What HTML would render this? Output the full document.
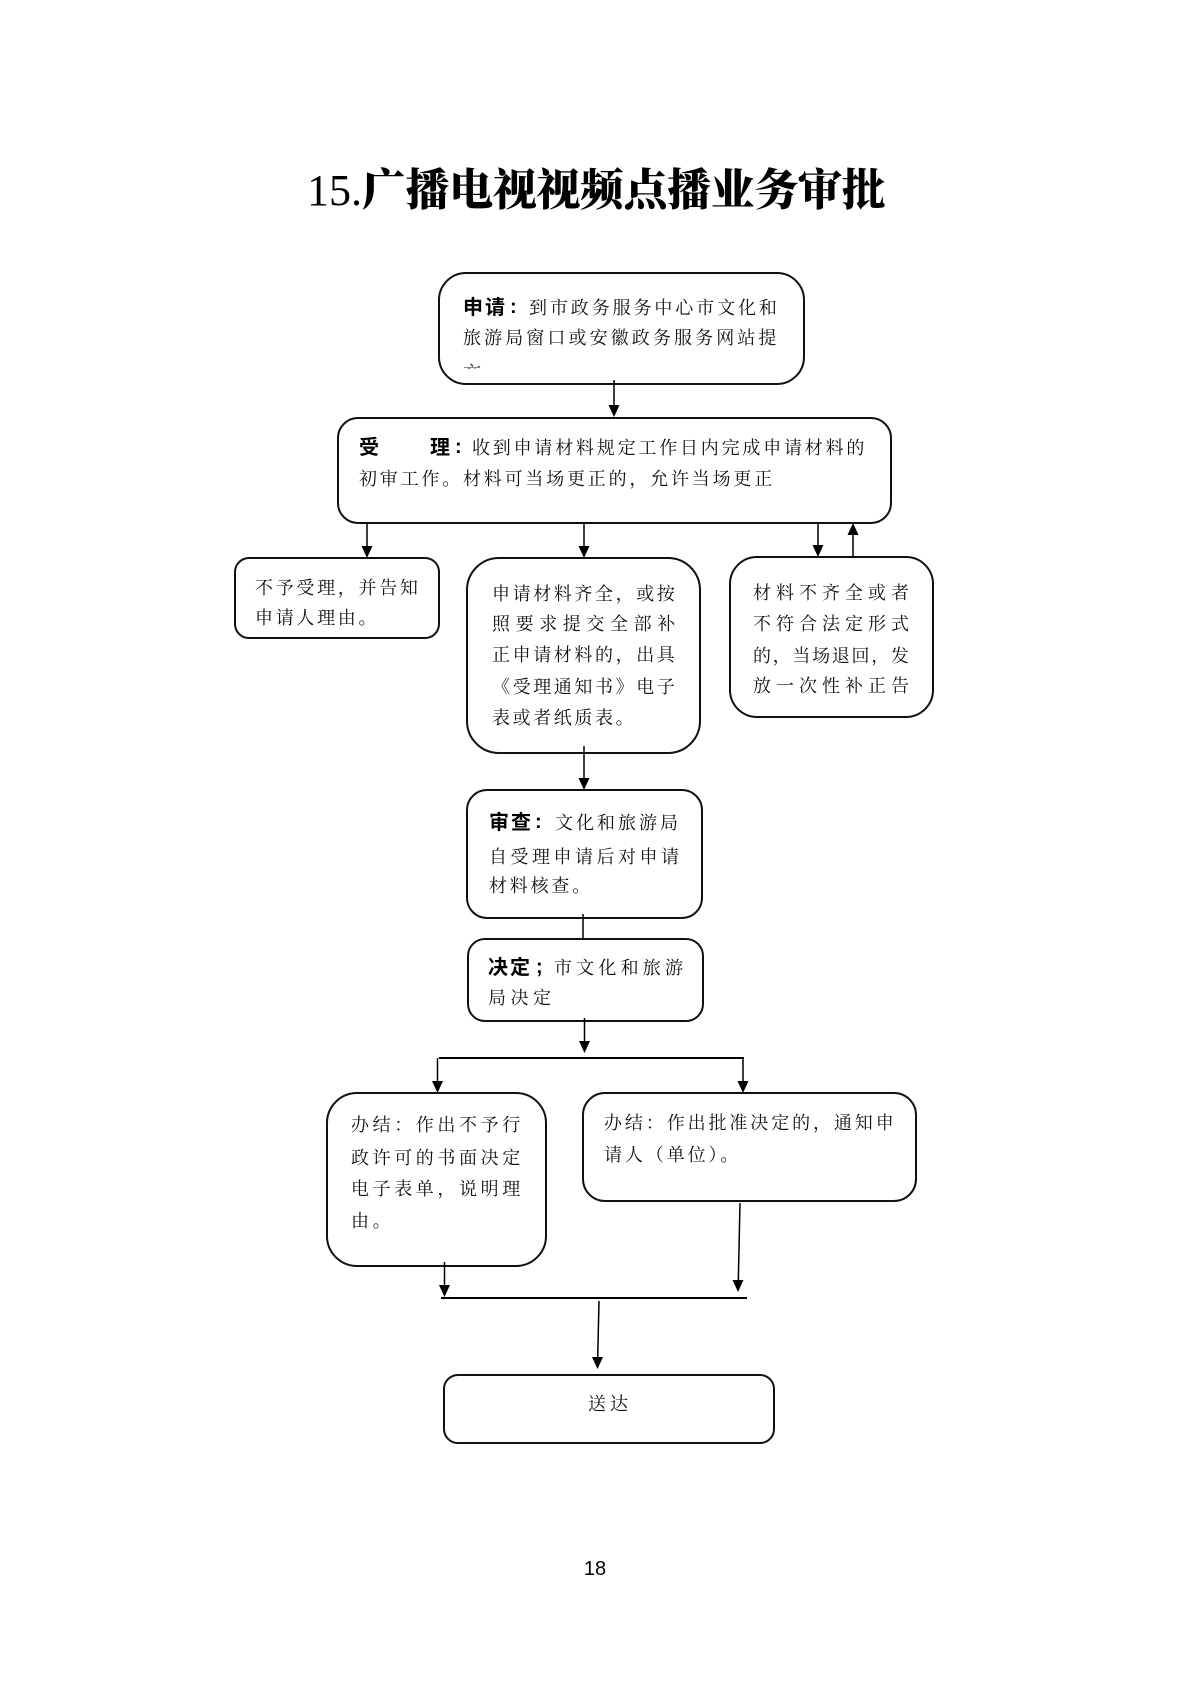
<!DOCTYPE html>
<html lang="zh-CN">
<head>
<meta charset="utf-8">
<style>
  html,body{margin:0;padding:0;background:#fff;}
  body{width:1190px;height:1683px;position:relative;overflow:hidden;}
  svg{position:absolute;left:0;top:0;}
  .t{position:absolute;white-space:nowrap;font-family:"Liberation Serif","Noto Serif CJK SC",serif;font-size:18px;line-height:18px;height:18px;color:#111;font-weight:400;}
  .b{position:absolute;white-space:nowrap;font-family:"Liberation Sans","Noto Sans CJK SC",sans-serif;font-size:20px;line-height:20px;height:20px;color:#000;font-weight:700;}
  .title{position:absolute;left:307px;top:169px;white-space:nowrap;font-size:44px;line-height:44px;color:#000;}
  .title .n{font-family:"Liberation Serif",serif;font-weight:400;}
  .title .c{font-family:"Liberation Serif","Noto Serif CJK SC",serif;font-weight:900;letter-spacing:-0.4px;}
  .clip{position:absolute;overflow:hidden;}
</style>
</head>
<body>

<div class="title"><span class="n">15.</span><span class="c">广播电视视频点播业务审批</span></div>

<svg width="1190" height="1683" viewBox="0 0 1190 1683">
  <g fill="none" stroke="#111" stroke-width="2">
    <rect x="439" y="273" width="365" height="111" rx="27"/>
    <rect x="338" y="418" width="553" height="105" rx="20"/>
    <rect x="235" y="558" width="204" height="80" rx="14"/>
    <rect x="467" y="558" width="233" height="195" rx="32"/>
    <rect x="730" y="557" width="203" height="160" rx="27"/>
    <rect x="467" y="790" width="235" height="128" rx="20"/>
    <rect x="468" y="939" width="235" height="82" rx="17"/>
    <rect x="327" y="1093" width="219" height="173" rx="30"/>
    <rect x="583" y="1093" width="333" height="108" rx="22"/>
    <rect x="444" y="1375" width="330" height="68" rx="14"/>
  </g>
  <g fill="none" stroke="#000" stroke-width="1.5">
    <line x1="614" y1="380" x2="614" y2="406"/>
    <line x1="367" y1="523" x2="367" y2="547"/>
    <line x1="584" y1="523" x2="584" y2="547"/>
    <line x1="818" y1="523" x2="818" y2="546"/>
    <line x1="853" y1="535" x2="853" y2="557"/>
    <line x1="584" y1="746" x2="584" y2="779"/>
    <line x1="583" y1="914" x2="583" y2="939"/>
    <line x1="584.5" y1="1018" x2="584.5" y2="1042"/>
    <line x1="437.5" y1="1058" x2="437.5" y2="1082"/>
    <line x1="743" y1="1058" x2="743" y2="1082"/>
    <line x1="444.5" y1="1262" x2="444.5" y2="1286"/>
    <line x1="740" y1="1203" x2="738.3" y2="1281"/>
    <line x1="599" y1="1301" x2="597.7" y2="1358"/>
  </g>
  <g stroke="#000" stroke-width="2">
    <line x1="439" y1="1058" x2="744" y2="1058"/>
    <line x1="441" y1="1298" x2="747" y2="1298"/>
  </g>
  <g fill="#000">
    <polygon points="608.5,405 619.5,405 614,417"/>
    <polygon points="361.5,546 372.5,546 367,558"/>
    <polygon points="578.5,546 589.5,546 584,558"/>
    <polygon points="812.5,545 823.5,545 818,557"/>
    <polygon points="847.5,535 858.5,535 853,523"/>
    <polygon points="578.5,778 589.5,778 584,790"/>
    <polygon points="579,1041 590,1041 584.5,1053"/>
    <polygon points="432,1081 443,1081 437.5,1093"/>
    <polygon points="737.5,1081 748.5,1081 743,1093"/>
    <polygon points="439,1285 450,1285 444.5,1297"/>
    <polygon points="732.5,1280 743.5,1280 738,1292"/>
    <polygon points="592,1357 603,1357 597.5,1369"/>
  </g>
</svg>

<!-- 申请 -->
<div class="b" style="left:463px;top:298px;letter-spacing:2px;">申请</div>
<div class="b" style="left:510px;top:297px;">:</div>
<div class="t" style="left:529px;top:299px;letter-spacing:2.9px;">到市政务服务中心市文化和</div>
<div class="t" style="left:463px;top:329px;letter-spacing:3.1px;">旅游局窗口或安徽政务服务网站提</div>
<div class="clip" style="left:455px;top:355px;width:40px;height:14px;">
  <div class="t" style="left:8px;top:9px;">交</div>
</div>

<!-- 受理 -->
<div class="b" style="left:359px;top:438px;">受</div>
<div class="b" style="left:430px;top:438px;">理</div>
<div class="b" style="left:455px;top:437px;">:</div>
<div class="t" style="left:472px;top:439px;letter-spacing:2.8px;">收到申请材料规定工作日内完成申请材料的</div>
<div class="t" style="left:359px;top:470px;letter-spacing:2.8px;">初审工作。材料可当场更正的，允许当场更正</div>

<!-- 不予受理 -->
<div class="t" style="left:255px;top:579px;letter-spacing:2.7px;">不予受理，并告知</div>
<div class="t" style="left:255px;top:609px;letter-spacing:2.7px;">申请人理由。</div>

<!-- 申请材料齐全 -->
<div class="t" style="left:492px;top:585px;letter-spacing:2.6px;">申请材料齐全，或按</div>
<div class="t" style="left:492px;top:615px;letter-spacing:5.6px;">照要求提交全部补</div>
<div class="t" style="left:492px;top:646px;letter-spacing:2.6px;">正申请材料的，出具</div>
<div class="t" style="left:492px;top:678px;letter-spacing:2.6px;">《受理通知书》电子</div>
<div class="t" style="left:492px;top:709px;letter-spacing:2.6px;">表或者纸质表。</div>

<!-- 材料不齐全 -->
<div class="t" style="left:753px;top:584px;letter-spacing:5px;">材料不齐全或者</div>
<div class="t" style="left:753px;top:615px;letter-spacing:5px;">不符合法定形式</div>
<div class="t" style="left:753px;top:647px;letter-spacing:1.7px;">的，当场退回，发</div>
<div class="t" style="left:753px;top:677px;letter-spacing:5px;">放一次性补正告</div>

<!-- 审查 -->
<div class="b" style="left:489px;top:813px;letter-spacing:2px;">审查</div>
<div class="b" style="left:535px;top:812px;">:</div>
<div class="t" style="left:555px;top:814px;letter-spacing:3px;">文化和旅游局</div>
<div class="t" style="left:489px;top:848px;letter-spacing:3.5px;">自受理申请后对申请</div>
<div class="t" style="left:489px;top:877px;letter-spacing:2.8px;">材料核查。</div>

<!-- 决定 -->
<div class="b" style="left:488px;top:958px;letter-spacing:2px;">决定</div>
<div class="b" style="left:536px;top:957px;">;</div>
<div class="t" style="left:554px;top:959px;letter-spacing:4.2px;">市文化和旅游</div>
<div class="t" style="left:488px;top:989px;letter-spacing:4.5px;">局决定</div>

<!-- 办结 left -->
<div class="t" style="left:351px;top:1116px;letter-spacing:3.6px;">办结：作出不予行</div>
<div class="t" style="left:351px;top:1149px;letter-spacing:3.6px;">政许可的书面决定</div>
<div class="t" style="left:351px;top:1180px;letter-spacing:3.6px;">电子表单，说明理</div>
<div class="t" style="left:351px;top:1212px;letter-spacing:3.6px;">由。</div>

<!-- 办结 right -->
<div class="t" style="left:604px;top:1114px;letter-spacing:2.9px;">办结：作出批准决定的，通知申</div>
<div class="t" style="left:604px;top:1146px;letter-spacing:2.9px;">请人（单位）。</div>

<!-- 送达 -->
<div class="t" style="left:588px;top:1395px;letter-spacing:4px;">送达</div>

<!-- page number -->
<div style="position:absolute;left:565px;top:1559px;width:60px;text-align:center;font-family:'Liberation Sans',sans-serif;font-size:20px;line-height:20px;color:#000;">18</div>

</body>
</html>
